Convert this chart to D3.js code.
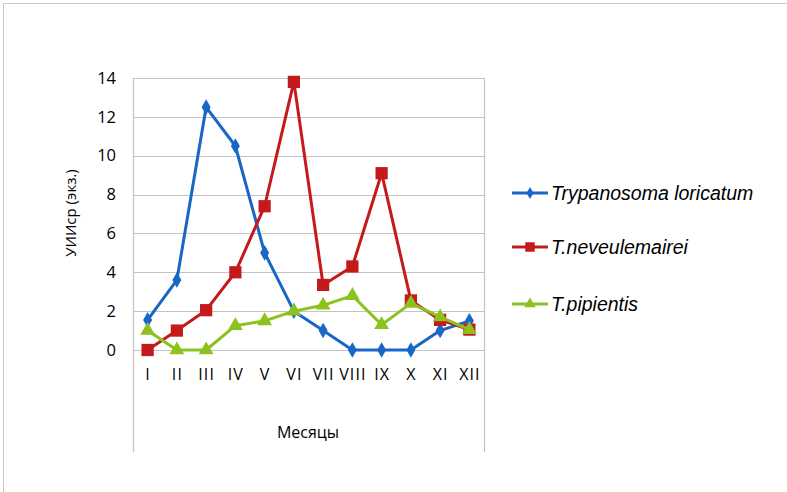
<!DOCTYPE html>
<html>
<head>
<meta charset="utf-8">
<script src="https://cdn.jsdelivr.net/npm/d3@7"></script>
<style>
  body { margin: 0; background: #fff; }
</style>
</head>
<body>
<div id="chart"></div>
<script>
const months = ['I', 'II', 'III', 'IV', 'V', 'VI', 'VII', 'VIII', 'IX', 'X', 'XI', 'XII'];
const loricatum = [1.55, 3.6, 12.5, 10.5, 5.0, 2.0, 1.0, 0, 0, 0, 1.0, 1.5];
const neveulemairei = [0, 1.0, 2.05, 4.0, 7.4, 13.8, 3.35, 4.3, 9.1, 2.55, 1.55, 1.05];
const pipientis = [1.0, 0, 0, 1.25, 1.5, 2.0, 2.3, 2.8, 1.3, 2.4, 1.7, 1.05];
const yTicks = [0, 2, 4, 6, 8, 10, 12, 14];

const series = [
  { name: 'Trypanosoma loricatum', values: loricatum, color: '#1866c6', symbol: d3.symbolDiamond, size: 70 },
  { name: 'T.neveulemairei', values: neveulemairei, color: '#c41a1c', symbol: d3.symbolSquare, size: 150 },
  { name: 'T.pipientis', values: pipientis, color: '#8cc21e', symbol: d3.symbolTriangle, size: 95 }
];

const width = 787, height = 492;
const plot = { left: 133, right: 484, top: 78, bottom: 350 };

const svg = d3.select('#chart').append('svg')
  .attr('width', width)
  .attr('height', height);

// outer frame (top and left edges only show)
svg.append('path')
  .attr('d', 'M3.5,492 V3.5 H787')
  .attr('fill', 'none')
  .attr('stroke', '#c8c8c8');

const x = d3.scaleBand()
  .domain(months)
  .range([plot.left, plot.right]);

const y = d3.scaleLinear()
  .domain([0, 14])
  .range([plot.bottom, plot.top]);

// gridlines
svg.append('g')
  .selectAll('line')
  .data(yTicks)
  .join('line')
    .attr('x1', plot.left)
    .attr('x2', plot.right)
    .attr('y1', d => Math.round(y(d)) + 0.5)
    .attr('y2', d => Math.round(y(d)) + 0.5)
    .attr('stroke', '#c4c4c4')
    .attr('stroke-width', 1.2);

// plot frame, side lines run down past the labels
svg.append('line')
  .attr('x1', plot.left + 0.5).attr('x2', plot.left + 0.5)
  .attr('y1', plot.top).attr('y2', 452)
  .attr('stroke', '#c4c4c4').attr('stroke-width', 1.2);
svg.append('line')
  .attr('x1', plot.right + 0.5).attr('x2', plot.right + 0.5)
  .attr('y1', plot.top).attr('y2', 452)
  .attr('stroke', '#c4c4c4').attr('stroke-width', 1.2);

// y axis
const yAxis = d3.axisLeft(y).tickValues(yTicks).tickSize(0).tickPadding(0);
const gy = svg.append('g')
  .attr('transform', 'translate(116,0)')
  .call(yAxis);
gy.select('.domain').remove();
gy.selectAll('text')
  .style('font-family', '"Open Sans", sans-serif')
  .style('font-size', '16.5px')
  .attr('fill', '#000');

// x axis
const xAxis = d3.axisBottom(x).tickSize(0).tickPadding(0);
const gx = svg.append('g')
  .attr('transform', 'translate(0.5,369)')
  .call(xAxis);
gx.select('.domain').remove();
gx.selectAll('text')
  .style('font-family', '"Open Sans", sans-serif')
  .style('font-size', '16px')
  .style('letter-spacing', '1.1px')
  .attr('fill', '#000');

// axis titles
svg.append('text')
  .attr('transform', 'translate(76,213) rotate(-90)')
  .attr('text-anchor', 'middle')
  .style('font-family', '"Open Sans", sans-serif')
  .style('font-size', '15px')
  .text('УИИср (экз.)');

svg.append('text')
  .attr('x', 308)
  .attr('y', 438)
  .attr('text-anchor', 'middle')
  .style('font-family', '"Open Sans", sans-serif')
  .style('font-size', '16px')
  .text('Месяцы');

const line = d3.line()
  .x((d, i) => x(months[i]) + x.bandwidth() / 2)
  .y(d => y(d));

series.forEach(s => {
  svg.append('path')
    .datum(s.values)
    .attr('d', line)
    .attr('fill', 'none')
    .attr('stroke', s.color)
    .attr('stroke-width', 3)
    .attr('stroke-linejoin', 'round');

  svg.append('g')
    .selectAll('path')
    .data(s.values)
    .join('path')
      .attr('transform', (d, i) => 'translate(' + (x(months[i]) + x.bandwidth() / 2) + ',' + y(d) + ')')
      .attr('d', d3.symbol().type(s.symbol).size(s.size))
      .attr('fill', s.color);
});

// legend
const legend = svg.append('g')
  .attr('transform', 'translate(512,0)');

const legendY = [193, 247, 304];
series.forEach((s, i) => {
  const g = legend.append('g')
    .attr('transform', 'translate(0,' + legendY[i] + ')');
  g.append('line')
    .attr('x1', 0).attr('x2', 36)
    .attr('stroke', s.color)
    .attr('stroke-width', 3);
  g.append('path')
    .attr('transform', 'translate(18,0)')
    .attr('d', d3.symbol().type(s.symbol).size(s.size * 0.6))
    .attr('fill', s.color);
  g.append('text')
    .attr('x', 39)
    .attr('y', 0)
    .attr('dy', '0.35em')
    .style('font-family', '"Liberation Sans", Arial, sans-serif')
    .style('font-style', 'italic')
    .style('font-size', '19.5px')
    .text(s.name);
});
</script>
</body>
</html>
